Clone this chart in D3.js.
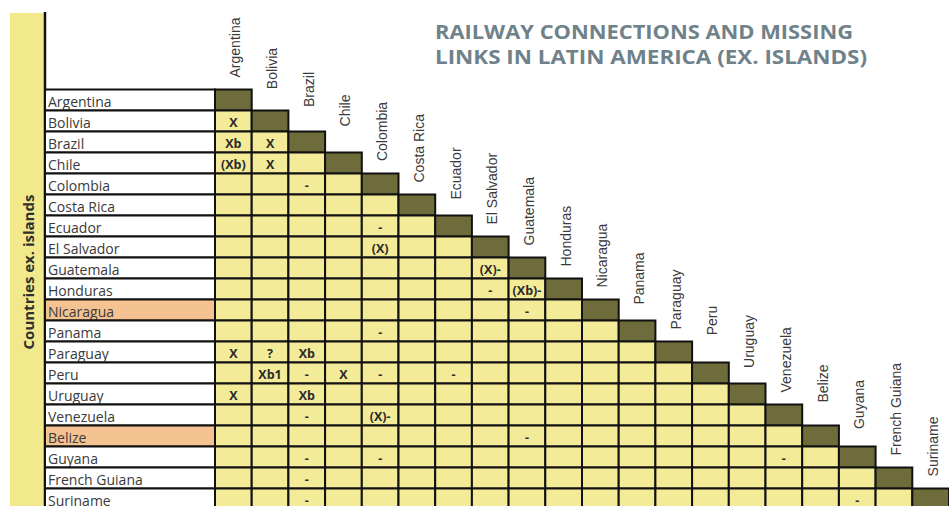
<!DOCTYPE html>
<html>
<head>
<meta charset="utf-8">
<script src="https://cdn.jsdelivr.net/npm/d3@7"></script>
<style>
  body { margin: 0; background: #fff; }
  svg { display: block; }
</style>
</head>
<body>
<div id="wrapper"></div>
<script>
// data
const countries = ["Argentina", "Bolivia", "Brazil", "Chile", "Colombia", "Costa Rica",
  "Ecuador", "El Salvador", "Guatemala", "Honduras", "Nicaragua", "Panama", "Paraguay",
  "Peru", "Uruguay", "Venezuela", "Belize", "Guyana", "French Guiana", "Suriname"]
const highlighted = ["Nicaragua", "Belize"]
// [row country, column country, mark]
const links = [
  ["Bolivia", "Argentina", "X"],
  ["Brazil", "Argentina", "Xb"], ["Brazil", "Bolivia", "X"],
  ["Chile", "Argentina", "(Xb)"], ["Chile", "Bolivia", "X"],
  ["Colombia", "Brazil", "-"],
  ["Ecuador", "Colombia", "-"],
  ["El Salvador", "Colombia", "(X)"],
  ["Guatemala", "El Salvador", "(X)-"],
  ["Honduras", "El Salvador", "-"], ["Honduras", "Guatemala", "(Xb)-"],
  ["Nicaragua", "Guatemala", "-"],
  ["Panama", "Colombia", "-"],
  ["Paraguay", "Argentina", "X"], ["Paraguay", "Bolivia", "?"], ["Paraguay", "Brazil", "Xb"],
  ["Peru", "Bolivia", "Xb1"], ["Peru", "Brazil", "-"], ["Peru", "Chile", "X"],
  ["Peru", "Colombia", "-"], ["Peru", "Ecuador", "-"],
  ["Uruguay", "Argentina", "X"], ["Uruguay", "Brazil", "Xb"],
  ["Venezuela", "Brazil", "-"], ["Venezuela", "Colombia", "(X)-"],
  ["Belize", "Guatemala", "-"],
  ["Guyana", "Brazil", "-"], ["Guyana", "Colombia", "-"], ["Guyana", "Venezuela", "-"],
  ["French Guiana", "Brazil", "-"],
  ["Suriname", "Brazil", "-"], ["Suriname", "Guyana", "-"],
]
const titleLines = ["RAILWAY CONNECTIONS AND MISSING", "LINKS IN LATIN AMERICA (EX. ISLANDS)"]
const axisTitle = "Countries ex. islands"

function drawMatrix() {
  const dimensions = {
    width: 949,
    height: 506,
    labelLeft: 45,
    gridLeft: 215,
    cellWidth: 36.7,
    gridTop: 89.5,
    cellHeight: 21,
  }

  const wrapper = d3.select("#wrapper")
    .append("svg")
      .attr("width", dimensions.width)
      .attr("height", dimensions.height)

  // scales
  const xScale = d3.scaleBand()
    .domain(countries)
    .range([dimensions.gridLeft, dimensions.gridLeft + countries.length * dimensions.cellWidth])

  const yScale = d3.scaleBand()
    .domain(countries)
    .range([dimensions.gridTop, dimensions.gridTop + countries.length * dimensions.cellHeight])

  // left band with rotated title
  wrapper.append("rect")
      .attr("x", 10)
      .attr("y", 13)
      .attr("width", 34)
      .attr("height", dimensions.height - 13)
      .attr("fill", "#f1e98c")

  wrapper.append("line")
      .attr("x1", dimensions.labelLeft)
      .attr("x2", dimensions.labelLeft)
      .attr("y1", 12)
      .attr("y2", dimensions.height)
      .attr("stroke", "#111")
      .attr("stroke-width", 2.5)

  wrapper.append("text")
      .attr("transform", `translate(28, 272) rotate(-90)`)
      .attr("text-anchor", "middle")
      .attr("dominant-baseline", "central")
      .attr("font-family", "'Open Sans', sans-serif")
      .attr("font-weight", 700)
      .attr("font-size", 15)
      .attr("fill", "#2f2f2f")
      .text(axisTitle)

  // row label cells
  const rows = wrapper.append("g")
    .selectAll("g")
    .data(countries)
    .join("g")

  rows.append("rect")
      .attr("x", dimensions.labelLeft)
      .attr("y", d => yScale(d))
      .attr("width", dimensions.gridLeft - dimensions.labelLeft)
      .attr("height", yScale.bandwidth())
      .attr("fill", d => highlighted.includes(d) ? "#f5c391" : "#fff")
      .attr("stroke", "#111")
      .attr("stroke-width", 2)

  rows.append("text")
      .attr("x", dimensions.labelLeft + 3)
      .attr("y", d => yScale(d) + yScale.bandwidth() / 2 + 1)
      .attr("dominant-baseline", "central")
      .attr("font-family", "'Open Sans', sans-serif")
      .attr("font-size", 14)
      .attr("fill", "#3a3a3a")
      .text(d => d)

  // matrix cells (lower triangle + diagonal)
  const cells = []
  countries.forEach((r, i) => {
    countries.forEach((c, j) => {
      if (j <= i) cells.push({ row: r, col: c, diag: i === j })
    })
  })

  wrapper.append("g")
    .selectAll("rect")
    .data(cells)
    .join("rect")
      .attr("x", d => xScale(d.col))
      .attr("y", d => yScale(d.row))
      .attr("width", xScale.bandwidth())
      .attr("height", yScale.bandwidth())
      .attr("fill", d => d.diag ? "#6e6c3b" : "#f3eb98")
      .attr("stroke", "#111")
      .attr("stroke-width", 2)

  // marks
  wrapper.append("g")
    .selectAll("text")
    .data(links)
    .join("text")
      .attr("x", d => xScale(d[1]) + xScale.bandwidth() / 2)
      .attr("y", d => yScale(d[0]) + yScale.bandwidth() / 2 + 1)
      .attr("text-anchor", "middle")
      .attr("dominant-baseline", "central")
      .attr("font-family", "'Open Sans', sans-serif")
      .attr("font-weight", 700)
      .attr("font-size", 12.5)
      .attr("fill", "#2a2a2a")
      .text(d => d[2])

  // column labels, rotated above the diagonal cells
  const colLabels = wrapper.append("g")
    .selectAll("text")
    .data(countries)
    .join("text")
      .attr("text-anchor", "middle")
      .attr("dominant-baseline", "central")
      .attr("font-family", "'Liberation Sans', Arial, sans-serif")
      .attr("font-size", 14)
      .attr("fill", "#3a3a3a")
      .text(d => d)

  colLabels.attr("transform", function(d) {
    const len = this.getComputedTextLength()
    const top = yScale(d)
    const cy = Math.min(top - 42, top - 12 - len / 2)
    const cx = xScale(d) + xScale.bandwidth() / 2 + 2
    return `translate(${cx}, ${cy}) rotate(-90)`
  })

  // title
  wrapper.append("g")
    .selectAll("text")
    .data(titleLines)
    .join("text")
      .attr("x", 435)
      .attr("y", (d, i) => 39 + i * 25)
      .attr("font-family", "'Open Sans', sans-serif")
      .attr("font-weight", 700)
      .attr("font-size", 20)
      .attr("fill", "#6f8189")
      .attr("textLength", (d, i) => i === 0 ? 418 : 432)
      .attr("lengthAdjust", "spacingAndGlyphs")
      .text(d => d)
}
drawMatrix()
</script>
</body>
</html>
